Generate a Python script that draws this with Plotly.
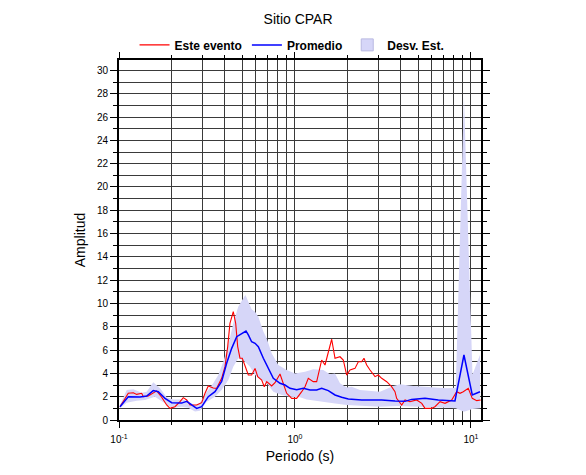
import plotly.graph_objects as go

# ---- data ----
evento_periodo = [0.1013, 0.1129, 0.1206, 0.1260, 0.1346, 0.1374, 0.1467, 0.1566, 0.1637, 0.1748,
                  0.1866, 0.1949, 0.208, 0.2222, 0.2319, 0.2425, 0.2532, 0.2764, 0.2951, 0.3081,
                  0.3216, 0.3433, 0.359, 0.383, 0.4002, 0.4146, 0.427, 0.446, 0.4603, 0.4725,
                  0.4870, 0.5018, 0.520, 0.543, 0.567, 0.593, 0.614, 0.647, 0.669, 0.691,
                  0.737, 0.770, 0.822, 0.858, 0.897, 0.958, 1.022, 1.092, 1.140, 1.190,
                  1.27, 1.328, 1.418, 1.481, 1.546, 1.616, 1.688, 1.802, 1.881, 1.967,
                  2.054, 2.193, 2.29, 2.393, 2.466, 2.555, 2.668, 2.849, 2.974, 3.109,
                  3.32, 3.54, 3.70, 3.78, 4.04, 4.22, 4.50, 4.91, 5.25, 5.48,
                  5.98, 6.24, 6.67, 7.12, 7.77, 8.29, 8.66, 9.04, 9.65, 10.17,
                  10.78, 11.36]
evento_amp = [1.14, 2.29, 2.34, 2.2, 2.29, 2.0, 2.06, 2.29, 2.5, 1.95,
              1.29, 1.0, 1.14, 1.57, 1.92, 1.72, 1.29, 1.29, 1.49, 2.29,
              2.92, 2.75, 2.72, 3.58, 4.58, 6.3, 8.3, 9.3, 8.3, 6.3,
              5.3, 5.3, 4.58, 3.86, 3.86, 4.43, 3.72, 3.43, 2.86, 3.29,
              2.92, 3.2, 3.95, 3.15, 2.29, 1.86, 1.86, 2.43, 2.86, 3.58,
              3.29, 3.29, 5.15, 4.72, 5.72, 6.93, 5.3, 5.43, 5.15, 3.86,
              4.29, 4.43, 5.0, 5.0, 5.3, 4.72, 4.29, 3.72, 3.86, 3.58,
              3.29, 2.86, 2.43, 1.86, 1.29, 1.72, 1.57, 1.72, 1.43, 1.0,
              1.0, 1.14, 1.57, 1.43, 1.72, 2.43, 2.29, 2.43, 2.72, 1.86,
              1.66, 1.72]

prom_periodo = [0.1013, 0.1129, 0.1316, 0.1437, 0.1566, 0.1672, 0.1825, 0.1993, 0.227, 0.2425,
                0.2588, 0.2764, 0.2951, 0.3216, 0.351, 0.383, 0.409, 0.4367, 0.4664, 0.498,
                0.5266, 0.543, 0.567, 0.593, 0.619, 0.661, 0.705, 0.753, 0.822, 0.877,
                0.937, 1.022, 1.115, 1.217, 1.328, 1.418, 1.546, 1.688, 1.842, 2.008,
                2.393, 3.109, 3.70, 4.22, 4.60, 5.48, 6.52, 8.11, 9.12, 10.17,
                11.25]
prom_amp = [1.14, 2.0, 1.97, 2.06, 2.52, 2.43, 1.86, 1.49, 1.45, 1.6,
            1.29, 1.0, 1.14, 2.0, 2.43, 3.3, 4.87, 6.15, 7.15, 7.44,
            7.64, 7.3, 6.72, 6.58, 6.3, 5.3, 4.43, 3.58, 3.15, 3.0,
            2.72, 2.6, 2.72, 2.57, 2.57, 2.72, 2.52, 2.15, 1.95, 1.8,
            1.72, 1.72, 1.63, 1.6, 1.77, 1.86, 1.72, 1.63, 5.58, 2.15,
            2.43]

sup_periodo = [0.1013, 0.1106, 0.1206, 0.1346, 0.1437, 0.1566, 0.171, 0.1866, 0.2034, 0.2319,
               0.2532, 0.2703, 0.2885, 0.315, 0.3433, 0.3665, 0.3914, 0.418, 0.446, 0.476,
               0.5084, 0.5233, 0.543, 0.567, 0.593, 0.619, 0.661, 0.691, 0.737, 0.804,
               0.897, 1.0, 1.14, 1.27, 1.448, 1.581, 1.688, 1.802, 1.967, 2.10,
               2.34, 2.786, 3.04, 3.62, 3.95, 4.70, 5.85, 7.28, 8.19, 9.12,
               10.2, 11.25]
sup_amp = [1.29, 2.57, 2.63, 2.34, 2.43, 3.23, 2.72, 1.95, 1.77, 1.77,
           1.49, 1.29, 1.49, 2.43, 3.15, 3.86, 5.0, 6.44, 8.3, 9.73,
           10.44, 10.73, 10.16, 9.5, 9.3, 8.87, 7.6, 7.0, 5.72, 4.72,
           4.29, 4.0, 4.15, 4.35, 4.29, 3.92, 4.0, 3.15, 2.8, 2.86,
           2.57, 2.49, 2.43, 2.92, 3.06, 2.92, 2.8, 2.72, 2.77, 27.75,
           3.9, 5.6]

inf_periodo = [0.1013, 0.1106, 0.1260, 0.1405, 0.160, 0.1785, 0.1993, 0.227, 0.2475, 0.2703,
               0.2885, 0.315, 0.351, 0.383, 0.418, 0.446, 0.476, 0.520, 0.555, 0.593,
               0.633, 0.691, 0.753, 0.840, 0.937, 1.067, 1.166, 1.387, 1.651, 1.967,
               2.444, 3.04, 3.78, 4.70, 5.85, 7.28, 8.19, 9.12, 10.2, 11.25]
inf_amp = [1.0, 1.49, 1.66, 1.72, 2.0, 1.57, 1.06, 1.14, 1.06, 0.72,
           0.8, 1.57, 2.0, 2.57, 3.43, 4.58, 5.3, 5.0, 4.58, 3.86,
           3.58, 3.15, 2.43, 2.15, 2.0, 1.95, 1.77, 1.57, 1.43, 1.29,
           1.2, 1.14, 1.2, 1.14, 1.09, 1.06, 1.0, 0.7, 0.95, 1.0]

x_tickvals = [0.1, 1, 10]
x_ticktext = ["10<sup>-1</sup>", "10<sup>0</sup>", "10<sup>1</sup>"]
x_minorvals = [0.2, 0.3, 0.4, 0.5, 0.6, 0.7, 0.8, 0.9, 2, 3, 4, 5, 6, 7, 8, 9]

FONT = "Liberation Sans, Arial, Helvetica, sans-serif"
BAND = "rgb(214,214,248)"

fig = go.Figure()

fig.add_trace(go.Scatter(
    x=sup_periodo + inf_periodo[::-1],
    y=sup_amp + inf_amp[::-1],
    fill="toself", fillcolor=BAND, mode="lines",
    line=dict(width=0, color=BAND), showlegend=False, hoverinfo="skip"))

fig.add_trace(go.Scatter(x=evento_periodo, y=evento_amp, mode="lines",
                         name="Este evento", line=dict(color="rgb(255,0,0)", width=1.1)))
fig.add_trace(go.Scatter(x=prom_periodo, y=prom_amp, mode="lines",
                         name="Promedio", line=dict(color="rgb(0,0,255)", width=1.5)))
fig.add_trace(go.Bar(x=[None], y=[None], name="Desv. Est.",
                     marker=dict(color=BAND, line=dict(color="rgb(185,185,225)", width=1))))

gridc = "#3a3a3a"
fig.update_xaxes(
    type="log", range=[-1, 1.0569], automargin=False,
    tickmode="array", tickvals=x_tickvals, ticktext=x_ticktext,
    ticks="outside", ticklen=6, tickwidth=1, tickcolor="black", ticklabelstandoff=3,
    showgrid=True, gridcolor=gridc, gridwidth=0.8,
    minor=dict(tickmode="array", tickvals=x_minorvals, ticks="outside", ticklen=3,
               tickcolor="black", showgrid=True, gridcolor=gridc, gridwidth=0.8),
    showline=True, linecolor="black", linewidth=2, mirror="allticks",
    zeroline=False,
    tickfont=dict(family=FONT, size=10, color="black"),
    title=dict(text="Periodo (s)", font=dict(family=FONT, size=14, color="black"), standoff=7),
)
fig.update_yaxes(
    range=[0, 30.9], tickmode="linear", tick0=0, dtick=2, automargin=False,
    ticks="outside", ticklen=7, tickwidth=1, tickcolor="black",
    showgrid=True, gridcolor=gridc, gridwidth=0.8,
    minor=dict(dtick=1, ticks="outside", ticklen=4, tickcolor="black",
               showgrid=True, gridcolor=gridc, gridwidth=0.8),
    showline=True, linecolor="black", linewidth=2, mirror="allticks",
    zeroline=False,
    tickfont=dict(family=FONT, size=10, color="black"),
    title=dict(text="Amplitud", font=dict(family=FONT, size=14, color="black"), standoff=8),
)

fig.update_layout(
    width=586, height=475,
    margin=dict(l=111, r=113, t=52, b=63, autoexpand=False),
    paper_bgcolor="white", plot_bgcolor="white",
    title=dict(text="Sitio CPAR", x=0.495, xanchor="center", y=0.977, yanchor="middle",
               font=dict(family=FONT, size=14, color="black")),
    legend=dict(orientation="h", x=0.478, xanchor="center", y=1.042, yanchor="middle",
                font=dict(family=FONT, size=12, color="black", weight="bold"),
                bgcolor="rgba(0,0,0,0)", itemwidth=30, traceorder="normal",
                tracegroupgap=0),
    showlegend=True,
)

fig.write_html("out.html")
